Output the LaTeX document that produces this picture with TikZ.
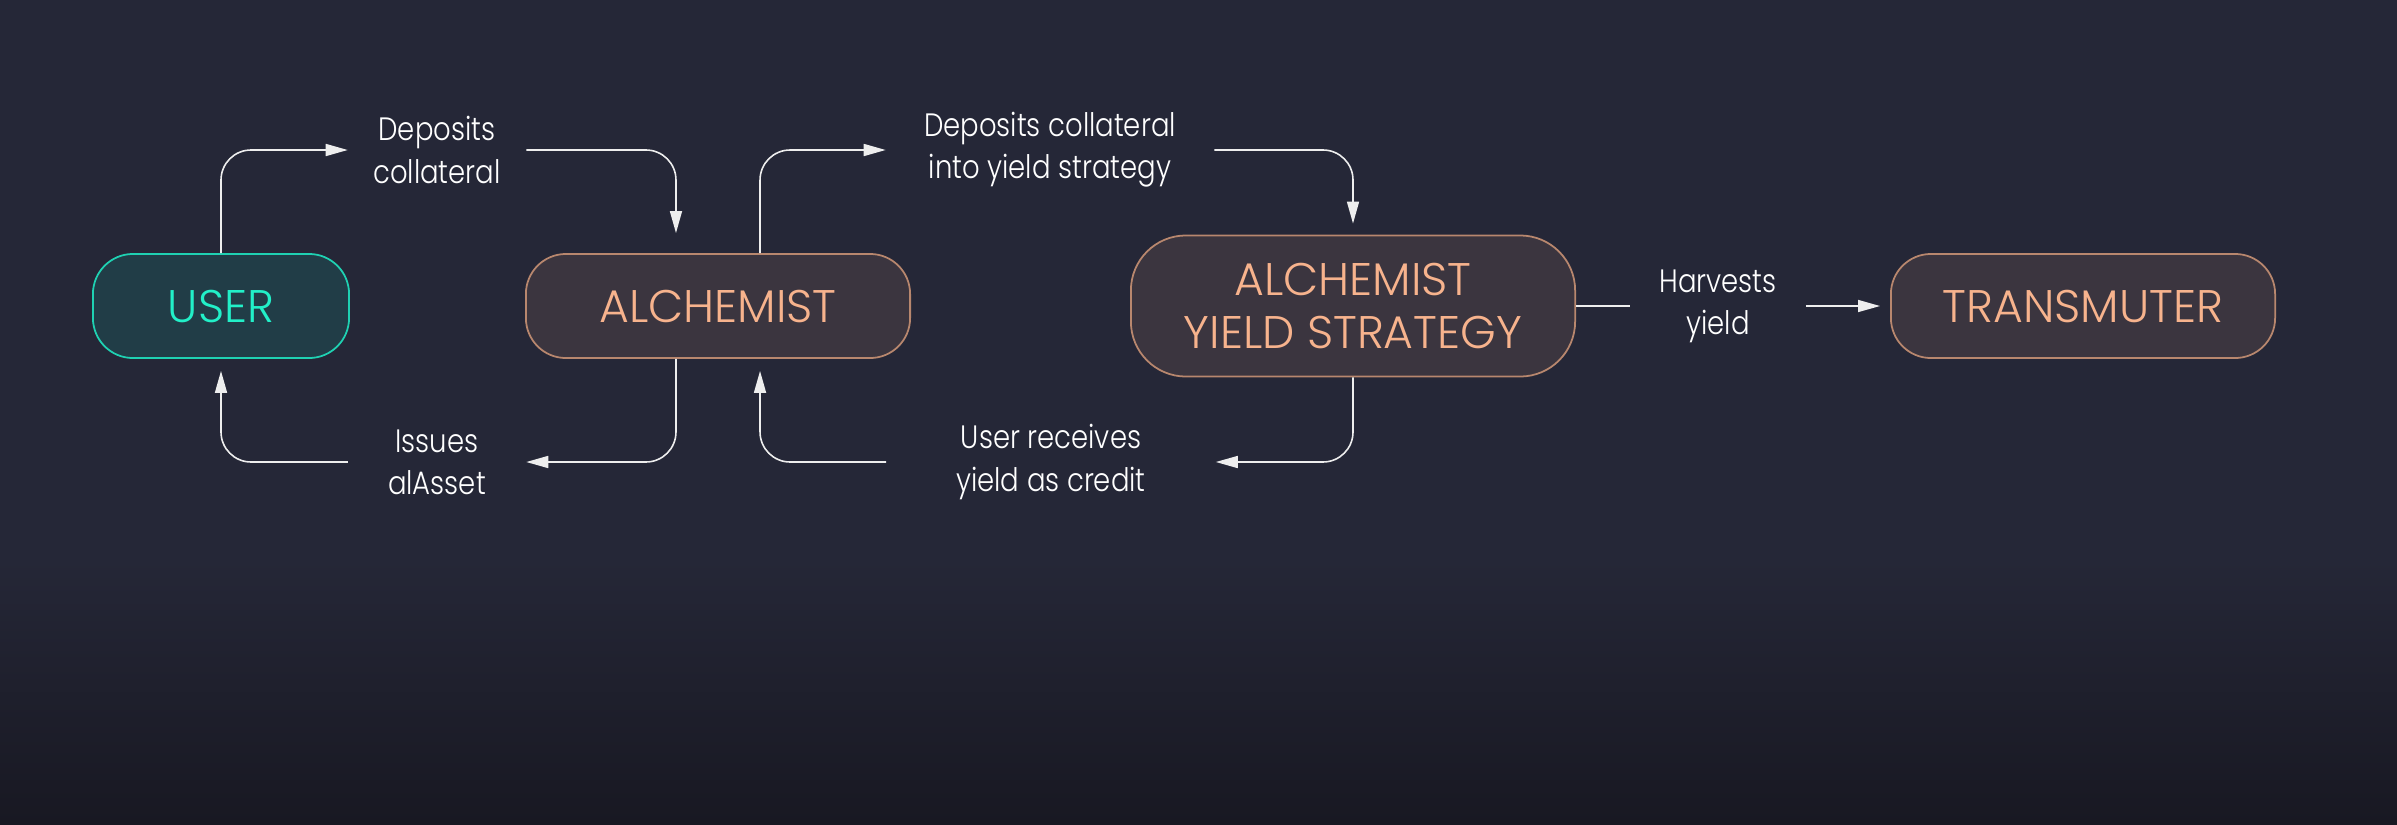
\documentclass[tikz,border=0pt]{standalone}
\usepackage{fontspec}
\setmainfont{Poppins}[UprightFont=* Light]
\newfontfamily\lblfont{Poppins}[UprightFont=* Light, FakeStretch=0.85]
\usepackage{xcolor}
\usetikzlibrary{arrows.meta}
\usetikzlibrary{positioning}

\definecolor{bgtop}{HTML}{252737}
\definecolor{bgbot}{HTML}{181822}
\definecolor{userfill}{HTML}{213D47}
\definecolor{userline}{HTML}{1FD1B2}
\definecolor{usertext}{HTML}{22F0C8}
\definecolor{corefill}{HTML}{3B353F}
\definecolor{coreline}{HTML}{B8876E}
\definecolor{coretext}{HTML}{F7B38D}
\definecolor{wirecol}{HTML}{EEEEEE}

\tikzset{
  boxtext/.style={font=\fontsize{13}{15}\selectfont, align=center},
  userbox/.style={boxtext, draw=userline, fill=userfill, text=usertext,
    line width=0.5pt, rounded corners=0.4cm, minimum width=2.56cm, minimum height=1.04cm},
  corebox/.style={boxtext, draw=coreline, fill=corefill, text=coretext,
    line width=0.5pt, rounded corners=0.4cm, minimum width=3.84cm, minimum height=1.04cm},
  lbl/.style={font=\lblfont\fontsize{9.2}{12}\selectfont, text=white, align=center, inner xsep=0pt},
  wire/.style={draw=wirecol, line width=0.45pt, rounded corners=0.3cm},
  flow/.style={wire, -{Triangle[length=0.22cm, width=0.12cm]}}
}

\begin{document}
\begin{tikzpicture}[x=0.01cm, y=-0.01cm]
  \useasboundingbox (0,0) rectangle (2397,824);
  \fill[bgtop] (0,0) rectangle (2397,560);
  \shade[top color=bgtop, bottom color=bgbot] (0,559) rectangle (2397,824);

  % boxes
  \node[userbox] (user) at (221,306) {USER};
  \node[corebox] (alch) at (718,306) {ALCHEMIST};
  \node[corebox, minimum width=4.44cm, minimum height=1.41cm, rounded corners=0.55cm] (strat) at (1353,306) {ALCHEMIST\\YIELD STRATEGY};
  \node[corebox] (trans) at (2083,306) {TRANSMUTER};

  % labels
  \node[lbl, minimum width=1.77cm] (depos) at (437,150) {Deposits\\collateral};
  \node[lbl, minimum width=3.27cm] (depstrat) at (1050,150) {Deposits collateral\\into yield strategy};
  \node[lbl, minimum width=1.77cm] (issues) at (437,462) {Issues\\alAsset};
  \node[lbl, minimum width=3.28cm] (credit) at (1051,462) {User receives\\yield as credit};
  \node[lbl, minimum width=1.74cm] (harvest) at (1718,306) {Harvests\\yield};

  % connectors
  \draw[flow] (user.north) |- (depos.west);
  \draw[flow, shorten >=0.2cm] (depos.east) -| ([xshift=-0.42cm]alch.north);
  \draw[flow] ([xshift=0.42cm]alch.north) |- (depstrat.west);
  \draw[flow, shorten >=0.11cm] (depstrat.east) -| (strat.north);
  \draw[flow] (strat.south) |- (credit.east);
  \draw[flow, shorten >=0.12cm] (credit.west) -| ([xshift=0.42cm]alch.south);
  \draw[flow] ([xshift=-0.42cm]alch.south) |- (issues.east);
  \draw[flow, shorten >=0.12cm] (issues.west) -| (user.south);
  \draw[wire] (strat.east) -- (harvest.west);
  \draw[flow, shorten >=0.1cm] (harvest.east) -- (trans.west);
\end{tikzpicture}
\end{document}
